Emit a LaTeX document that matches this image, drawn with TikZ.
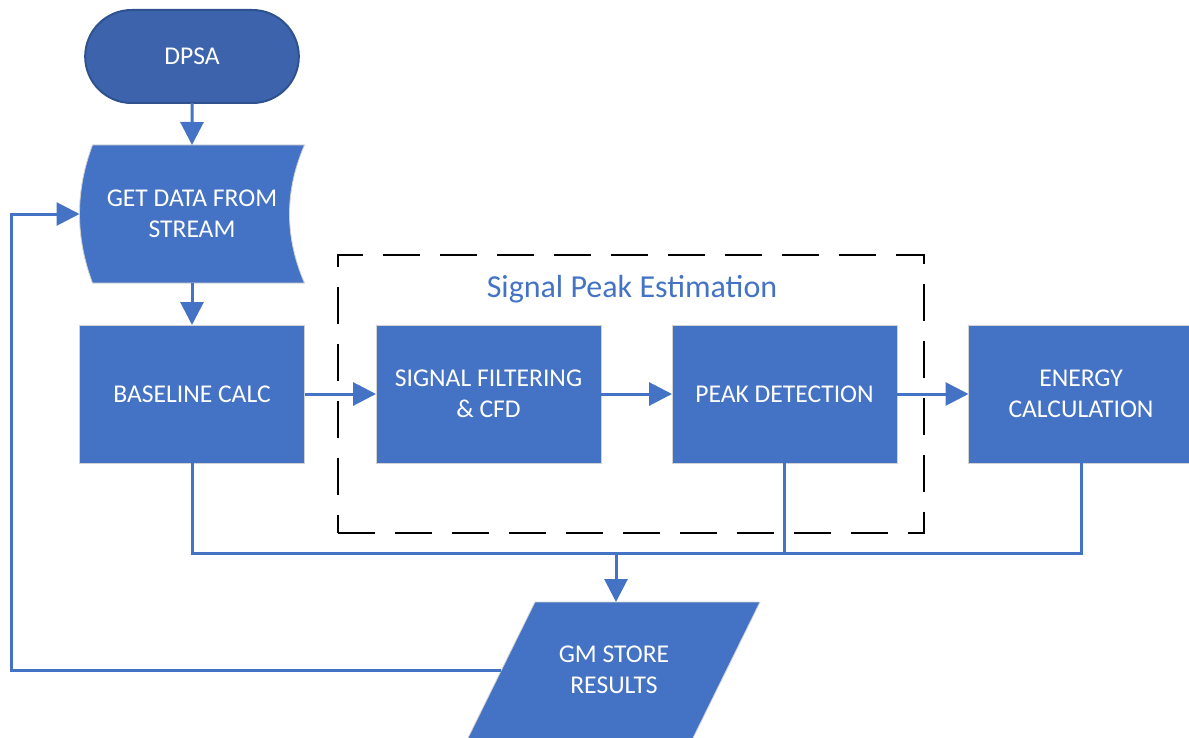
\documentclass[tikz,border=0pt]{standalone}
\usepackage{fontspec}
\setmainfont{Carlito}
\usepackage{xcolor}
\usepackage{tikz}
\usetikzlibrary{shapes,arrows.meta,positioning,calc}
\definecolor{blk}{RGB}{68,114,196}
\definecolor{blkdark}{RGB}{62,99,173}
\definecolor{blkedge}{RGB}{47,82,143}

\begin{document}
\begin{tikzpicture}[
        x=0.5pt, y=-0.5pt,
        every node/.style={font=\fontsize{12.8}{15.5}\selectfont, text=white, align=center, outer sep=0pt},
        nd/.style={fill=blk, draw=gray!35, line width=0.4pt, minimum width=112.5pt, minimum height=69pt},
        fl/.style={draw=blk, line width=1.5pt, -{Triangle[length=11.5pt,width=11.5pt]}},
        ln/.style={draw=blk, line width=1.5pt},
        sh/.style={fill=blk, draw=gray!35, line width=0.4pt},
    ]
    \useasboundingbox (0,0) rectangle (1189,738);
    % stored data and parallelogram outlines behind their text
    \filldraw[sh] (92.5,145) .. controls (75.2,191) and (75.2,237) .. (92.5,283)
        -- (304.5,283) .. controls (284.5,237) and (284.5,191) .. (304.5,145) -- cycle;
    \filldraw[sh] (535,602) -- (760,602) -- (692,740) -- (467,740) -- cycle;
    \node[rounded rectangle, fill=blkdark, draw=blkedge, line width=1pt, minimum width=113.5pt, minimum height=46.5pt] (dpsa) at (192,56.5) {DPSA};
    \node[minimum width=112.5pt, minimum height=69pt] (get) at (192,214) {GET DATA FROM\\STREAM};
    \node[nd] (base) at (192,394) {BASELINE CALC};
    \node[nd] (filt) at (488.5,394) {SIGNAL FILTERING\\\& CFD};
    \node[nd] (peak) at (784.5,394) {PEAK DETECTION};
    \node[nd] (energy) at (1081,394) {ENERGY\\CALCULATION};
    \node[minimum width=113pt, minimum height=68pt] (gm) at (614,670) {GM STORE\\RESULTS};
    \node[text=blk, font=\fontsize{16}{19}\selectfont] (title) at (632,289) {Signal Peak Estimation};
    \coordinate (bus) at (616,553);
    \coordinate (ret) at (11,670);
    \draw[fl] (dpsa) -- (get);
    \draw[fl] (get) -- (base);
    \draw[fl] (base) -- (filt);
    \draw[fl] (filt) -- (peak);
    \draw[fl] (peak) -- (energy);
    \draw[ln] (base.south) |- (bus) -| (energy.south);
    \draw[ln] (peak.south) -- (peak.south |- bus);
    \draw[fl] (bus) -- (gm.north -| bus);
    \draw[fl] (gm.west) -- (ret) |- (get.west);
    % group frame
    \node[draw=black, line width=1pt, dash pattern=on 18.5pt off 10pt, minimum width=293pt, minimum height=139pt] (spe) at (631,394) {};
\end{tikzpicture}
\end{document}
